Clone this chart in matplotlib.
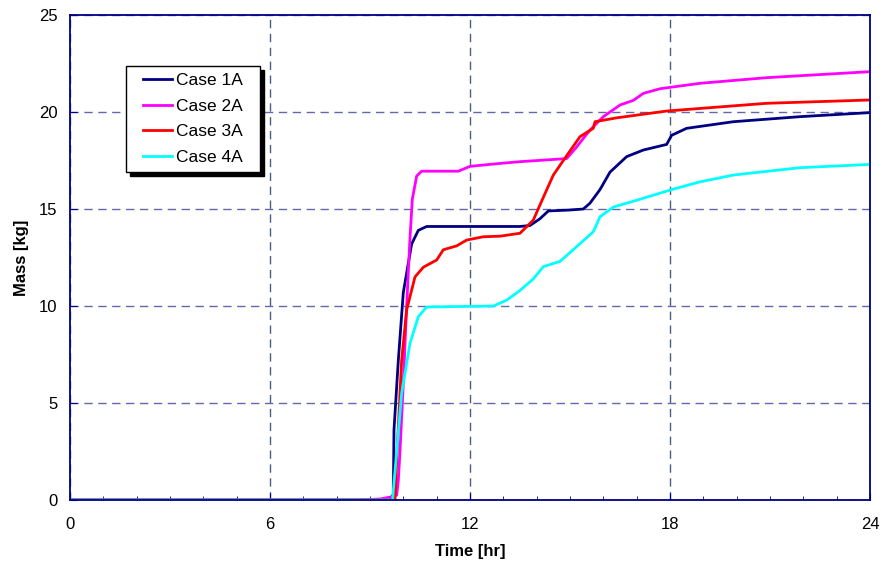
import matplotlib.pyplot as plt
import matplotlib
from matplotlib.ticker import MultipleLocator
from matplotlib.path import Path

matplotlib.rc('font', family=['Liberation Sans', 'DejaVu Sans'])

# time [hr] / mass [kg] for each case
t_1a = [0, 9.0, 9.6, 9.7, 9.72, 9.85, 10.0, 10.25, 10.45, 10.7, 12.0, 13.5, 13.8, 14.1, 14.35,
        15.0, 15.4, 15.6, 15.9, 16.2, 16.7, 17.2, 17.9, 18.05, 18.5, 19.9, 21.9, 24]
m_1a = [0, 0, 0, 0.3, 3.6, 7.2, 10.7, 13.2, 13.9, 14.1, 14.1, 14.1, 14.15, 14.5, 14.9,
        14.95, 15.0, 15.3, 16.0, 16.9, 17.7, 18.04, 18.33, 18.8, 19.16, 19.5, 19.76, 19.97]

t_2a = [0, 8.5, 9.3, 9.6, 9.8, 9.85, 9.9, 10.0, 10.1, 10.2, 10.27, 10.4, 10.55, 11.65, 12.0,
        12.9, 13.5, 14.9, 15.2, 15.6, 16.0, 16.5, 16.9, 17.2, 17.7, 18.9, 20.9, 24]
m_2a = [0, 0, 0.05, 0.15, 0.25, 1.0, 2.5, 6.0, 10.0, 13.5, 15.5, 16.7, 16.95, 16.95, 17.2,
        17.35, 17.44, 17.6, 18.2, 19.07, 19.76, 20.36, 20.6, 20.96, 21.2, 21.48, 21.77, 22.08]

t_3a = [0, 9.75, 9.8, 9.95, 10.1, 10.35, 10.6, 11.0, 11.2, 11.6, 11.9, 12.4, 12.9, 13.5, 13.9,
        14.2, 14.5, 14.8, 15.3, 15.7, 15.75, 16.4, 17.9, 20.9, 24]
m_3a = [0, 0, 2.06, 7.2, 9.8, 11.5, 12.0, 12.37, 12.9, 13.1, 13.4, 13.57, 13.6, 13.75, 14.43,
        15.6, 16.75, 17.5, 18.73, 19.16, 19.5, 19.7, 20.05, 20.45, 20.62]

t_4a = [0, 9.68, 9.7, 9.78, 9.95, 10.2, 10.45, 10.7, 12.7, 13.1, 13.5, 13.9, 14.2, 14.7, 15.2,
        15.7, 15.9, 16.3, 16.9, 18.05, 18.9, 19.9, 21.9, 24]
m_4a = [0, 0, 0.5, 2.06, 5.5, 8.08, 9.45, 9.95, 10.0, 10.3, 10.8, 11.4, 12.03, 12.3, 13.06,
        13.83, 14.6, 15.1, 15.4, 16.0, 16.4, 16.75, 17.13, 17.3]

series = [('Case 1A', t_1a, m_1a, '#000080'),
          ('Case 2A', t_2a, m_2a, '#ff00ff'),
          ('Case 3A', t_3a, m_3a, '#ff0000'),
          ('Case 4A', t_4a, m_4a, '#00ffff')]


def wide_box(x0, y0, width, height, mutation_size):
    # legend frame with extra room left and right
    dx = 0.55 * mutation_size
    return Path([(x0 - dx, y0), (x0 + width + dx, y0), (x0 + width + dx, y0 + height),
                 (x0 - dx, y0 + height), (x0 - dx, y0)], closed=True)


fig = plt.figure(figsize=(8.85, 5.71), dpi=100)
ax = fig.add_axes([0.0791, 0.1243, 0.9039, 0.8494])

for name, t, m, c in series:
    ax.plot(t, m, color=c, lw=2, label=name)

ax.set_xlim(0, 24)
ax.set_ylim(0, 25)
ax.xaxis.set_major_locator(MultipleLocator(6))
ax.xaxis.set_minor_locator(MultipleLocator(1))
ax.yaxis.set_major_locator(MultipleLocator(5))
ax.tick_params(which='both', direction='in', colors='#000080', labelcolor='black',
               labelsize=12)
ax.tick_params(which='major', length=5)
ax.tick_params(which='minor', length=3)
ax.tick_params(axis='x', pad=12)
ax.tick_params(axis='y', pad=9)

ax.grid(True, which='major', axis='y', color='#6666aa', ls=(0, (6, 4)), lw=1)
ax.grid(True, which='major', axis='x', color='#4a5f80', ls=(0, (6, 4)), lw=1)
for s in ax.spines.values():
    s.set_color('#000080')
    s.set_linewidth(1.3)

ax.set_xlabel('Time [hr]', fontsize=12, fontweight='bold', labelpad=9)
ax.set_ylabel('Mass [kg]', fontsize=12, fontweight='bold', labelpad=7)

leg = ax.legend(loc='upper left', bbox_to_anchor=(0.082, 0.895), borderaxespad=0,
                fontsize=12.5, fancybox=False,
                shadow={'color': 'black', 'alpha': 1, 'ox': 3, 'oy': -3},
                framealpha=1, edgecolor='black', handlelength=1.7,
                handletextpad=0.25, borderpad=0.4, labelspacing=0.6)
leg.get_frame().set_linewidth(1)
leg.get_frame().set_boxstyle(wide_box)

fig.savefig('out.png', dpi=100)
